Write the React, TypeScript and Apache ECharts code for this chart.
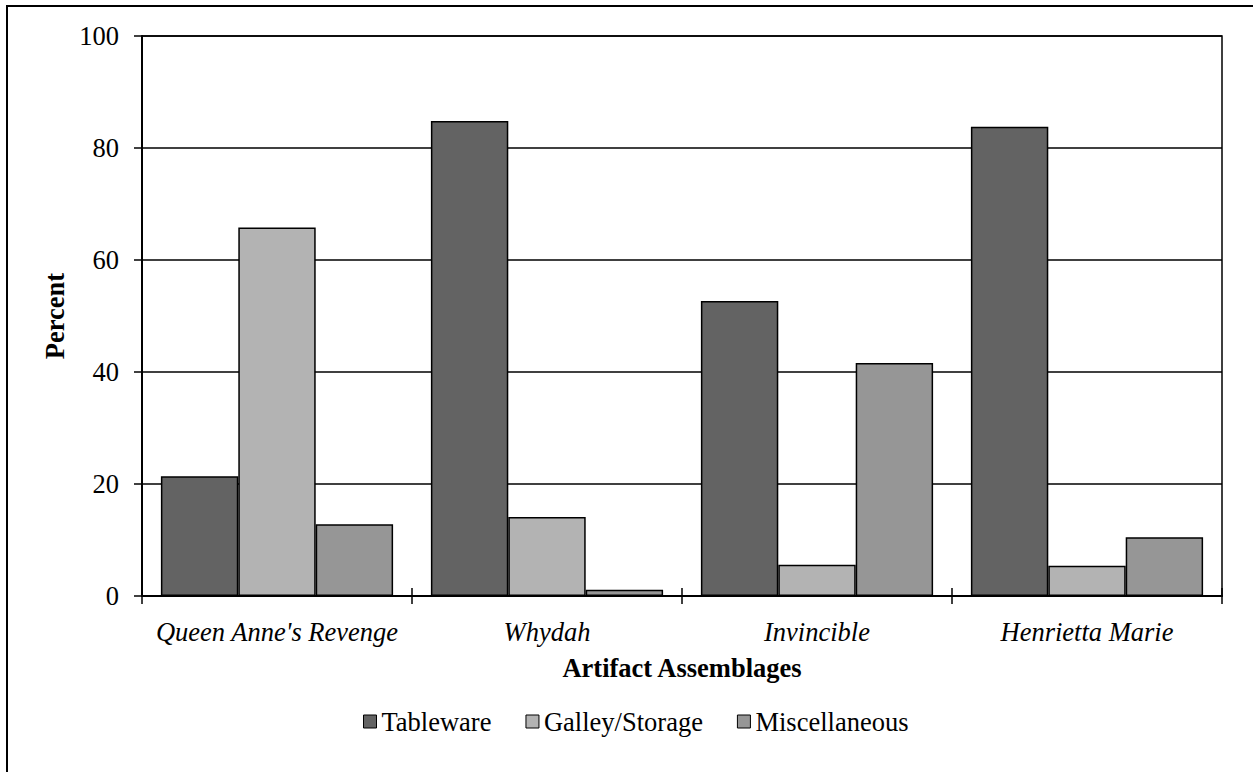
import React, { useEffect, useRef } from "react";
import * as echarts from "echarts";

const categories = ["Queen Anne's Revenge", "Whydah", "Invincible", "Henrietta Marie"];
const seriesNames = ["Tableware", "Galley/Storage", "Miscellaneous"];
const tableware = [21.4, 84.8, 52.7, 83.8];
const galley = [65.8, 14.1, 5.6, 5.4];
const misc = [12.8, 1.1, 41.6, 10.5];
const colors = ["#636363", "#b3b3b3", "#969696"];
const yTicks = [0, 20, 40, 60, 80, 100];

const FONT = "'Liberation Serif', 'Times New Roman', serif";
const FS = 26.5;

export default function App() {
  const ref = useRef<HTMLDivElement>(null);
  useEffect(() => {
    if (!ref.current) return;
    const chart = echarts.init(ref.current, null, { renderer: "svg" });
    const data = [tableware, galley, misc];
    chart.setOption({
      animation: false,
      backgroundColor: "#ffffff",
      textStyle: { fontFamily: FONT, color: "#000" },
      graphic: [
        {
          type: "rect",
          shape: { x: 7, y: 6, width: 1400, height: 1000 },
          style: { fill: "none", stroke: "#000", lineWidth: 2 },
          silent: true,
        },
      ],
      legend: {
        data: seriesNames,
        top: 703,
        left: 358,
        itemWidth: 13,
        itemHeight: 13,
        itemGap: 34,
        icon: "rect",
        itemStyle: { borderColor: "#000", borderWidth: 1 },
        textStyle: { fontFamily: FONT, fontSize: FS, color: "#000" },
      },
      grid: {
        left: 142,
        right: 31,
        top: 36,
        bottom: 176,
        show: true,
        borderColor: "#000",
        borderWidth: 1.5,
      },
      xAxis: [
        {
          type: "category",
          data: categories,
          name: "Artifact Assemblages",
          nameLocation: "middle",
          nameGap: 58,
          nameTextStyle: { fontFamily: FONT, fontSize: FS, fontWeight: "bold", color: "#000" },
          axisLine: { lineStyle: { color: "#000", width: 2 } },
          axisTick: { show: true, length: 8, lineStyle: { color: "#000", width: 1.5 } },
          axisLabel: {
            interval: 0,
            hideOverlap: false,
            fontFamily: FONT,
            fontSize: FS,
            fontStyle: "italic",
            color: "#000",
            margin: 22,
          },
        },
        {
          type: "category",
          data: categories,
          position: "bottom",
          axisLine: { show: false },
          axisTick: { show: true, inside: true, length: 8, lineStyle: { color: "#000", width: 1.5 } },
          axisLabel: { show: false },
        },
      ],
      yAxis: {
        type: "value",
        min: 0,
        max: 100,
        interval: 20,
        name: "Percent",
        nameLocation: "middle",
        nameGap: 73,
        nameRotate: 90,
        nameTextStyle: { fontFamily: FONT, fontSize: FS, fontWeight: "bold", color: "#000" },
        axisLine: { show: true, lineStyle: { color: "#000", width: 2 } },
        axisTick: { show: true, length: 8, lineStyle: { color: "#000", width: 1.5 } },
        axisLabel: {
          fontFamily: FONT,
          fontSize: FS,
          color: "#000",
          margin: 23,
          formatter: (v: number) => (yTicks.includes(v) ? String(v) : ""),
        },
        splitLine: { show: true, lineStyle: { color: "#000", width: 1.5 } },
      },
      series: seriesNames.map((name, i) => ({
        name,
        type: "bar",
        data: data[i],
        barGap: "0%",
        barCategoryGap: "14%",
        itemStyle: { color: colors[i], borderColor: "#000", borderWidth: 1.5 },
      })),
    });
    return () => chart.dispose();
  }, []);
  return (
    <div
      ref={ref}
      style={{ position: "fixed", left: 0, top: 0, width: 1253, height: 772, background: "#fff" }}
    />
  );
}
